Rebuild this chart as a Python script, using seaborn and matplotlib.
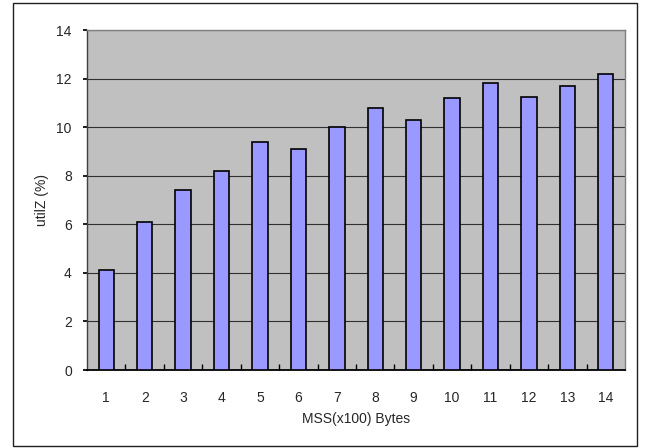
import matplotlib
matplotlib.use("Agg")
import matplotlib.pyplot as plt
import seaborn as sns
import pandas as pd
from matplotlib.patches import Rectangle

categories = ["1", "2", "3", "4", "5", "6", "7", "8", "9", "10", "11", "12", "13", "14"]
util_values = [4.1, 6.1, 7.4, 8.2, 9.4, 9.1, 10.0, 10.8, 10.3, 11.2, 11.8, 11.25, 11.7, 12.2]
y_ticks = [0, 2, 4, 6, 8, 10, 12, 14]

df = pd.DataFrame({"mss": categories, "util": util_values})

sns.set_theme(style="white")
plt.rcParams['font.family'] = ['Liberation Sans', 'DejaVu Sans']

fig = plt.figure(figsize=(6.45, 4.48), dpi=100)
ax = fig.add_axes([0.135, 0.174, 0.834, 0.759])
ax.set_facecolor("#C0C0C0")

sns.barplot(data=df, x="mss", y="util", color="#9999FF", width=0.4,
            edgecolor="black", linewidth=1.2, saturation=1, ax=ax, zorder=3)

ax.set_ylim(0, 14)
ax.set_yticks(y_ticks)
ax.set_xlim(-0.5, len(categories) - 0.5)
ax.yaxis.grid(True, color="#303030", linewidth=0.8, zorder=1)
ax.set_axisbelow(True)

for side in ["top", "right"]:
    ax.spines[side].set_color("#808080")
    ax.spines[side].set_linewidth(1.0)
ax.spines["left"].set_color("#404040")
ax.spines["left"].set_linewidth(1.0)
ax.spines["bottom"].set_color("black")
ax.spines["bottom"].set_linewidth(1.3)

ax.tick_params(axis="y", left=True, length=3, direction="out", labelsize=10, color="black", pad=8)
ax.tick_params(axis="x", bottom=False, labelsize=10, pad=9)
# minor ticks between categories
ax.set_xticks([i + 0.5 for i in range(len(categories) - 1)], minor=True)
ax.tick_params(axis="x", which="minor", bottom=True, direction="in", length=4, color="black")

ax.set_xlabel("MSS(x100) Bytes", fontsize=10, labelpad=5)
ax.set_ylabel("utilZ (%)", fontsize=10, labelpad=5)

fig.patches.append(Rectangle((0.02, 0.004), 0.968, 0.99, transform=fig.transFigure,
                             fill=False, edgecolor="#202020", linewidth=1.0))

fig.savefig("out.png", dpi=100)
